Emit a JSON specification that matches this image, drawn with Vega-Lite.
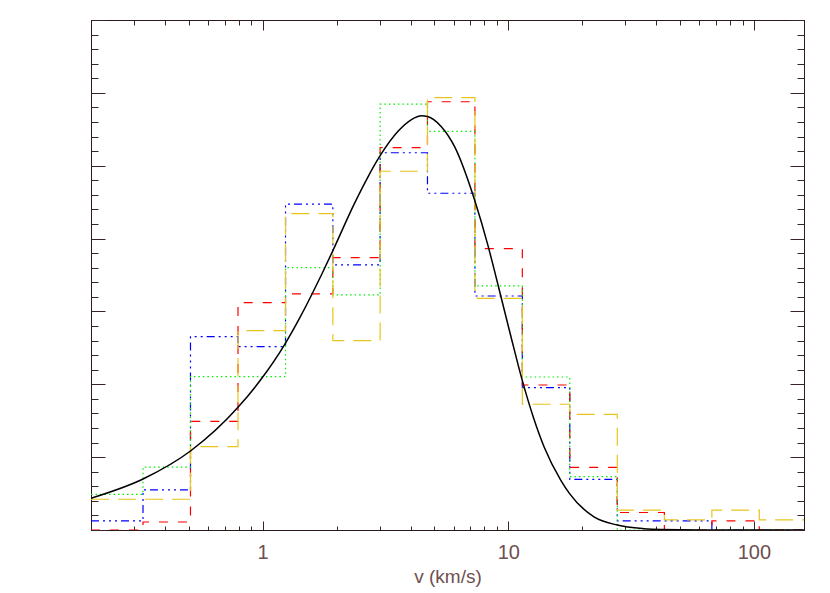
{
  "$schema": "https://vega.github.io/schema/vega-lite/v6.json",
  "width": 713,
  "height": 510,
  "autosize": {"type": "none"},
  "padding": {"left": 91, "top": 20, "right": 26, "bottom": 63},
  "background": "white",
  "config": {
    "view": {"stroke": "#2b1a1a", "strokeWidth": 1},
    "axis": {
      "grid": false,
      "domainColor": "#2b1a1a",
      "tickColor": "#3b2424",
      "tickWidth": 1,
      "labelFont": "Liberation Sans",
      "labelFontSize": 20,
      "labelColor": "#6e4f4f",
      "titleFont": "Liberation Sans",
      "titleFontWeight": "normal",
      "titleFontSize": 19,
      "titleColor": "#6e4f4f",
      "zindex": 1
    }
  },
  "datasets": {
    "hist": [
      {"v": 0.2, "f": 0.62, "s": "blue"}, {"v": 0.3257, "f": 2.75, "s": "blue"}, {"v": 0.5083, "f": 13.27, "s": "blue"}, {"v": 0.7936, "f": 12.58, "s": "blue"}, {"v": 1.239, "f": 22.37, "s": "blue"}, {"v": 1.931, "f": 18.19, "s": "blue"}, {"v": 3.008, "f": 25.89, "s": "blue"}, {"v": 4.688, "f": 23.11, "s": "blue"}, {"v": 7.315, "f": 16.06, "s": "blue"}, {"v": 11.41, "f": 9.77, "s": "blue"}, {"v": 17.8, "f": 3.48, "s": "blue"}, {"v": 27.79, "f": 0.62, "s": "blue"}, {"v": 43.21, "f": 0.62, "s": "blue"}, {"v": 67.45, "f": 0, "s": "blue"}, {"v": 105.2, "f": 0, "s": "blue"}, {"v": 164, "f": 0, "s": "blue"},
      {"v": 0.2, "f": 0, "s": "red"}, {"v": 0.3257, "f": 0.55, "s": "red"}, {"v": 0.5083, "f": 7.46, "s": "red"}, {"v": 0.7936, "f": 15.6, "s": "red"}, {"v": 1.239, "f": 16.2, "s": "red"}, {"v": 1.931, "f": 18.69, "s": "red"}, {"v": 3.008, "f": 26.24, "s": "red"}, {"v": 4.688, "f": 29.39, "s": "red"}, {"v": 7.315, "f": 19.31, "s": "red"}, {"v": 11.41, "f": 9.95, "s": "red"}, {"v": 17.8, "f": 4.3, "s": "red"}, {"v": 27.79, "f": 1.2, "s": "red"}, {"v": 43.21, "f": 0, "s": "red"}, {"v": 67.45, "f": 0.62, "s": "red"}, {"v": 105.2, "f": 0, "s": "red"}, {"v": 164, "f": 0, "s": "red"},
      {"v": 0.2, "f": 2.45, "s": "green"}, {"v": 0.3257, "f": 4.32, "s": "green"}, {"v": 0.5083, "f": 10.52, "s": "green"}, {"v": 0.7936, "f": 10.52, "s": "green"}, {"v": 1.239, "f": 18.0, "s": "green"}, {"v": 1.931, "f": 16.13, "s": "green"}, {"v": 3.008, "f": 29.22, "s": "green"}, {"v": 4.688, "f": 27.36, "s": "green"}, {"v": 7.315, "f": 16.75, "s": "green"}, {"v": 11.41, "f": 10.5, "s": "green"}, {"v": 17.8, "f": 3.66, "s": "green"}, {"v": 27.79, "f": 0, "s": "green"}, {"v": 43.21, "f": 0, "s": "green"}, {"v": 67.45, "f": 0, "s": "green"}, {"v": 105.2, "f": 0, "s": "green"}, {"v": 164, "f": 0, "s": "green"},
      {"v": 0.2, "f": 2.11, "s": "gold"}, {"v": 0.3257, "f": 2.11, "s": "gold"}, {"v": 0.5083, "f": 5.72, "s": "gold"}, {"v": 0.7936, "f": 13.68, "s": "gold"}, {"v": 1.239, "f": 21.71, "s": "gold"}, {"v": 1.931, "f": 12.99, "s": "gold"}, {"v": 3.008, "f": 24.62, "s": "gold"}, {"v": 4.688, "f": 29.67, "s": "gold"}, {"v": 7.315, "f": 15.9, "s": "gold"}, {"v": 11.41, "f": 8.63, "s": "gold"}, {"v": 17.8, "f": 7.94, "s": "gold"}, {"v": 27.79, "f": 1.37, "s": "gold"}, {"v": 43.21, "f": 0.69, "s": "gold"}, {"v": 67.45, "f": 1.37, "s": "gold"}, {"v": 105.2, "f": 0.69, "s": "gold"}, {"v": 164, "f": 0.69, "s": "gold"}
    ],
    "curve": [
      {"v": 0.2, "f": 2.18}, {"v": 0.3257, "f": 3.5}, {"v": 0.5083, "f": 5.42}, {"v": 0.7936, "f": 8.42}, {"v": 0.9797, "f": 10.29}, {"v": 1.239, "f": 12.83}, {"v": 1.419, "f": 14.59}, {"v": 1.587, "f": 16.18}, {"v": 1.742, "f": 17.57}, {"v": 1.931, "f": 19.17}, {"v": 2.36, "f": 22.38}, {"v": 2.695, "f": 24.29}, {"v": 3.003, "f": 25.67}, {"v": 3.565, "f": 27.38}, {"v": 4.036, "f": 28.17}, {"v": 4.432, "f": 28.43}, {"v": 4.688, "f": 28.38}, {"v": 5.341, "f": 27.68}, {"v": 6.046, "f": 26.31}, {"v": 7.315, "f": 22.58}, {"v": 8.259, "f": 19.55}, {"v": 8.867, "f": 17.53}, {"v": 9.203, "f": 16.44}, {"v": 10.27, "f": 13.23}, {"v": 11.41, "f": 10.25}, {"v": 12.69, "f": 7.67}, {"v": 14.01, "f": 5.68}, {"v": 16.37, "f": 3.41}, {"v": 17.8, "f": 2.48}, {"v": 22.34, "f": 0.9}, {"v": 27.79, "f": 0.34}, {"v": 35.62, "f": 0.09}, {"v": 41.6, "f": 0.03}, {"v": 60.4, "f": 0}, {"v": 160, "f": 0}
    ]
  },
  "layer": [
    {
      "data": {"name": "hist"},
      "mark": {"type": "line", "interpolate": "step-after", "strokeWidth": 1.2, "clip": true},
      "encoding": {
        "x": {
          "field": "v", "type": "quantitative",
          "scale": {"type": "log", "domain": [0.2, 160], "nice": false},
          "axis": {
            "orient": "bottom",
            "values": [0.2, 0.3, 0.4, 0.5, 0.6, 0.7, 0.8, 0.9, 1, 2, 3, 4, 5, 6, 7, 8, 9, 10, 20, 30, 40, 50, 60, 70, 80, 90, 100],
            "tickSize": {"condition": {"test": "indexof([1,10,100], datum.value) >= 0", "value": -9}, "value": -4},
            "labelExpr": "datum.value == 1 ? '1' : datum.value == 10 ? '10' : datum.value == 100 ? '100' : ''",
            "labelOverlap": false,
            "labelFlush": false,
            "labelPadding": 21,
            "title": "v (km/s)",
            "titlePadding": 0
          }
        },
        "y": {
          "field": "f", "type": "quantitative",
          "scale": {"domain": [0, 35], "nice": false, "zero": true},
          "axis": {
            "orient": "left",
            "values": [0,1,2,3,4,5,6,7,8,9,10,11,12,13,14,15,16,17,18,19,20,21,22,23,24,25,26,27,28,29,30,31,32,33,34,35],
            "tickSize": {"condition": {"test": "datum.value % 5 === 0", "value": -14}, "value": -7},
            "labels": false,
            "title": null
          }
        },
        "color": {
          "field": "s", "type": "nominal",
          "scale": {"domain": ["blue", "red", "green", "gold"], "range": ["#0000ff", "#ff0000", "#00ee00", "#e8c51e"]},
          "legend": null
        },
        "strokeDash": {
          "field": "s", "type": "nominal",
          "scale": {"domain": ["blue", "red", "green", "gold"], "range": [[8, 4, 2, 4, 2, 4, 2, 4], [9, 10], [1.5, 3], [18, 9]]},
          "legend": null
        }
      }
    },
    {
      "data": {"name": "curve"},
      "mark": {"type": "line", "color": "black", "strokeWidth": 1.5, "clip": true, "interpolate": "monotone"},
      "encoding": {
        "x": {
          "field": "v", "type": "quantitative",
          "scale": {"type": "log", "domain": [0.2, 160], "nice": false},
          "axis": {
            "orient": "top",
            "values": [0.2, 0.3, 0.4, 0.5, 0.6, 0.7, 0.8, 0.9, 1, 2, 3, 4, 5, 6, 7, 8, 9, 10, 20, 30, 40, 50, 60, 70, 80, 90, 100],
            "tickSize": {"condition": {"test": "indexof([1,10,100], datum.value) >= 0", "value": -10}, "value": -5},
            "labels": false,
            "title": null
          }
        },
        "y": {
          "field": "f", "type": "quantitative",
          "scale": {"domain": [0, 35], "nice": false, "zero": true},
          "axis": {
            "orient": "right",
            "values": [0,1,2,3,4,5,6,7,8,9,10,11,12,13,14,15,16,17,18,19,20,21,22,23,24,25,26,27,28,29,30,31,32,33,34,35],
            "tickSize": {"condition": {"test": "datum.value % 5 === 0", "value": -14}, "value": -7},
            "labels": false,
            "title": null
          }
        }
      }
    }
  ],
  "resolve": {"axis": {"x": "independent", "y": "independent"}}
}
